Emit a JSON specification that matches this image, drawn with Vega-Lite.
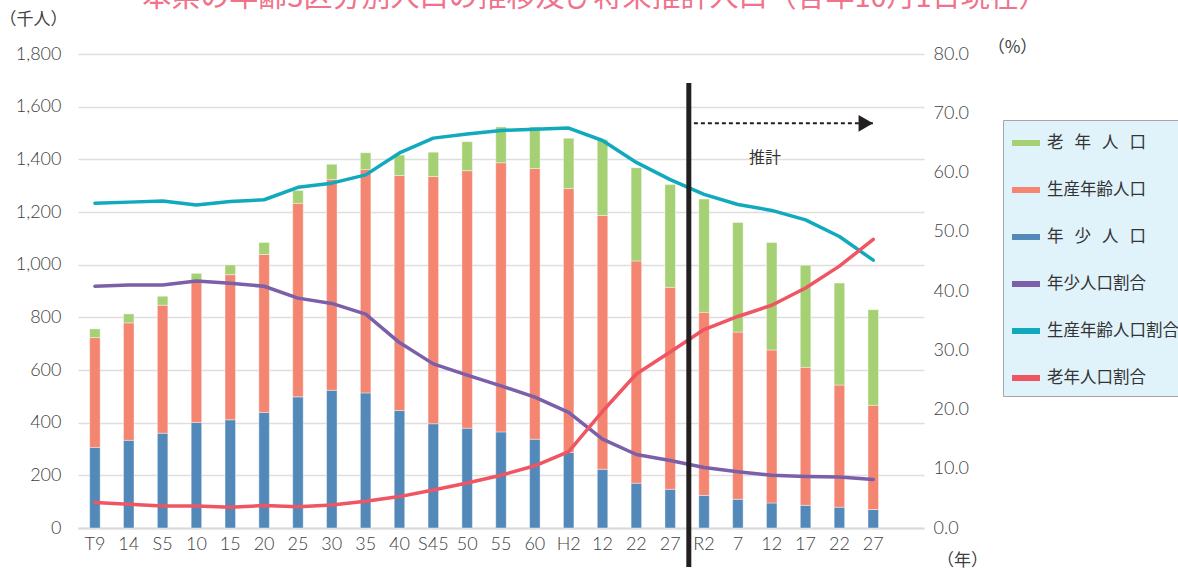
{
  "$schema": "https://vega.github.io/schema/vega-lite/v6.json",
  "width": 846,
  "height": 474,
  "autosize": "none",
  "padding": {"left": 78, "top": 54, "right": 254, "bottom": 43},
  "background": "white",
  "title": {
    "text": "本県の年齢3区分別人口の推移及び将来推計人口（各年10月1日現在）",
    "anchor": "middle",
    "frame": "group",
    "dx": 94,
    "dy": 26,
    "offset": 0,
    "baseline": "alphabetic",
    "font": "Noto Sans CJK JP",
    "fontSize": 29,
    "fontWeight": "normal",
    "color": "#f0738b"
  },
  "config": {
    "view": {"stroke": null},
    "font": "Noto Sans CJK JP"
  },
  "datasets": {
    "population": [
      {"年": "1920", "区分": "年少人口", "人口": 306}, {"年": "1920", "区分": "生産年齢人口", "人口": 417}, {"年": "1920", "区分": "老年人口", "人口": 33},
      {"年": "1925", "区分": "年少人口", "人口": 333}, {"年": "1925", "区分": "生産年齢人口", "人口": 446}, {"年": "1925", "区分": "老年人口", "人口": 34},
      {"年": "1930", "区分": "年少人口", "人口": 360}, {"年": "1930", "区分": "生産年齢人口", "人口": 486}, {"年": "1930", "区分": "老年人口", "人口": 34},
      {"年": "1935", "区分": "年少人口", "人口": 401}, {"年": "1935", "区分": "生産年齢人口", "人口": 538}, {"年": "1935", "区分": "老年人口", "人口": 28},
      {"年": "1940", "区分": "年少人口", "人口": 411}, {"年": "1940", "区分": "生産年齢人口", "人口": 551}, {"年": "1940", "区分": "老年人口", "人口": 37},
      {"年": "1945", "区分": "年少人口", "人口": 439}, {"年": "1945", "区分": "生産年齢人口", "人口": 600}, {"年": "1945", "区分": "老年人口", "人口": 45},
      {"年": "1950", "区分": "年少人口", "人口": 498}, {"年": "1950", "区分": "生産年齢人口", "人口": 735}, {"年": "1950", "区分": "老年人口", "人口": 49},
      {"年": "1955", "区分": "年少人口", "人口": 523}, {"年": "1955", "区分": "生産年齢人口", "人口": 801}, {"年": "1955", "区分": "老年人口", "人口": 57},
      {"年": "1960", "区分": "年少人口", "人口": 513}, {"年": "1960", "区分": "生産年齢人口", "人口": 848}, {"年": "1960", "区分": "老年人口", "人口": 64},
      {"年": "1965", "区分": "年少人口", "人口": 446}, {"年": "1965", "区分": "生産年齢人口", "人口": 893}, {"年": "1965", "区分": "老年人口", "人口": 77},
      {"年": "1970", "区分": "年少人口", "人口": 396}, {"年": "1970", "区分": "生産年齢人口", "人口": 939}, {"年": "1970", "区分": "老年人口", "人口": 92},
      {"年": "1975", "区分": "年少人口", "人口": 379}, {"年": "1975", "区分": "生産年齢人口", "人口": 978}, {"年": "1975", "区分": "老年人口", "人口": 110},
      {"年": "1980", "区分": "年少人口", "人口": 365}, {"年": "1980", "区分": "生産年齢人口", "人口": 1022}, {"年": "1980", "区分": "老年人口", "人口": 136},
      {"年": "1985", "区分": "年少人口", "人口": 337}, {"年": "1985", "区分": "生産年齢人口", "人口": 1028}, {"年": "1985", "区分": "老年人口", "人口": 158},
      {"年": "1990", "区分": "年少人口", "人口": 287}, {"年": "1990", "区分": "生産年齢人口", "人口": 1002}, {"年": "1990", "区分": "老年人口", "人口": 191},
      {"年": "2000", "区分": "年少人口", "人口": 223}, {"年": "2000", "区分": "生産年齢人口", "人口": 964}, {"年": "2000", "区分": "老年人口", "人口": 288},
      {"年": "2010", "区分": "年少人口", "人口": 170}, {"年": "2010", "区分": "生産年齢人口", "人口": 844}, {"年": "2010", "区分": "老年人口", "人口": 354},
      {"年": "2015", "区分": "年少人口", "人口": 147}, {"年": "2015", "区分": "生産年齢人口", "人口": 767}, {"年": "2015", "区分": "老年人口", "人口": 390},
      {"年": "2020", "区分": "年少人口", "人口": 124}, {"年": "2020", "区分": "生産年齢人口", "人口": 695}, {"年": "2020", "区分": "老年人口", "人口": 430},
      {"年": "2025", "区分": "年少人口", "人口": 109}, {"年": "2025", "区分": "生産年齢人口", "人口": 635}, {"年": "2025", "区分": "老年人口", "人口": 416},
      {"年": "2030", "区分": "年少人口", "人口": 95}, {"年": "2030", "区分": "生産年齢人口", "人口": 581}, {"年": "2030", "区分": "老年人口", "人口": 408},
      {"年": "2035", "区分": "年少人口", "人口": 86}, {"年": "2035", "区分": "生産年齢人口", "人口": 524}, {"年": "2035", "区分": "老年人口", "人口": 388},
      {"年": "2040", "区分": "年少人口", "人口": 79}, {"年": "2040", "区分": "生産年齢人口", "人口": 464}, {"年": "2040", "区分": "老年人口", "人口": 387},
      {"年": "2045", "区分": "年少人口", "人口": 70}, {"年": "2045", "区分": "生産年齢人口", "人口": 396}, {"年": "2045", "区分": "老年人口", "人口": 363}
    ],
    "ratio": [
      {"年": "1920", "区分": "年少人口割合", "割合": 40.8}, {"年": "1920", "区分": "生産年齢人口割合", "割合": 54.8}, {"年": "1920", "区分": "老年人口割合", "割合": 4.3},
      {"年": "1925", "区分": "年少人口割合", "割合": 41.0}, {"年": "1925", "区分": "生産年齢人口割合", "割合": 55.0}, {"年": "1925", "区分": "老年人口割合", "割合": 4.0},
      {"年": "1930", "区分": "年少人口割合", "割合": 41.0}, {"年": "1930", "区分": "生産年齢人口割合", "割合": 55.2}, {"年": "1930", "区分": "老年人口割合", "割合": 3.7},
      {"年": "1935", "区分": "年少人口割合", "割合": 41.7}, {"年": "1935", "区分": "生産年齢人口割合", "割合": 54.5}, {"年": "1935", "区分": "老年人口割合", "割合": 3.7},
      {"年": "1940", "区分": "年少人口割合", "割合": 41.3}, {"年": "1940", "区分": "生産年齢人口割合", "割合": 55.1}, {"年": "1940", "区分": "老年人口割合", "割合": 3.5},
      {"年": "1945", "区分": "年少人口割合", "割合": 40.8}, {"年": "1945", "区分": "生産年齢人口割合", "割合": 55.4}, {"年": "1945", "区分": "老年人口割合", "割合": 3.8},
      {"年": "1950", "区分": "年少人口割合", "割合": 38.8}, {"年": "1950", "区分": "生産年齢人口割合", "割合": 57.5}, {"年": "1950", "区分": "老年人口割合", "割合": 3.6},
      {"年": "1955", "区分": "年少人口割合", "割合": 37.9}, {"年": "1955", "区分": "生産年齢人口割合", "割合": 58.2}, {"年": "1955", "区分": "老年人口割合", "割合": 3.9},
      {"年": "1960", "区分": "年少人口割合", "割合": 36.1}, {"年": "1960", "区分": "生産年齢人口割合", "割合": 59.6}, {"年": "1960", "区分": "老年人口割合", "割合": 4.5},
      {"年": "1965", "区分": "年少人口割合", "割合": 31.3}, {"年": "1965", "区分": "生産年齢人口割合", "割合": 63.3}, {"年": "1965", "区分": "老年人口割合", "割合": 5.3},
      {"年": "1970", "区分": "年少人口割合", "割合": 27.7}, {"年": "1970", "区分": "生産年齢人口割合", "割合": 65.8}, {"年": "1970", "区分": "老年人口割合", "割合": 6.4},
      {"年": "1975", "区分": "年少人口割合", "割合": 25.8}, {"年": "1975", "区分": "生産年齢人口割合", "割合": 66.5}, {"年": "1975", "区分": "老年人口割合", "割合": 7.6},
      {"年": "1980", "区分": "年少人口割合", "割合": 24.0}, {"年": "1980", "区分": "生産年齢人口割合", "割合": 67.1}, {"年": "1980", "区分": "老年人口割合", "割合": 8.9},
      {"年": "1985", "区分": "年少人口割合", "割合": 22.1}, {"年": "1985", "区分": "生産年齢人口割合", "割合": 67.3}, {"年": "1985", "区分": "老年人口割合", "割合": 10.5},
      {"年": "1990", "区分": "年少人口割合", "割合": 19.5}, {"年": "1990", "区分": "生産年齢人口割合", "割合": 67.5}, {"年": "1990", "区分": "老年人口割合", "割合": 12.9},
      {"年": "2000", "区分": "年少人口割合", "割合": 15.0}, {"年": "2000", "区分": "生産年齢人口割合", "割合": 65.4}, {"年": "2000", "区分": "老年人口割合", "割合": 19.7},
      {"年": "2010", "区分": "年少人口割合", "割合": 12.4}, {"年": "2010", "区分": "生産年齢人口割合", "割合": 61.7}, {"年": "2010", "区分": "老年人口割合", "割合": 26.0},
      {"年": "2015", "区分": "年少人口割合", "割合": 11.4}, {"年": "2015", "区分": "生産年齢人口割合", "割合": 58.8}, {"年": "2015", "区分": "老年人口割合", "割合": 29.7},
      {"年": "2020", "区分": "年少人口割合", "割合": 10.2}, {"年": "2020", "区分": "生産年齢人口割合", "割合": 56.3}, {"年": "2020", "区分": "老年人口割合", "割合": 33.5},
      {"年": "2025", "区分": "年少人口割合", "割合": 9.5}, {"年": "2025", "区分": "生産年齢人口割合", "割合": 54.6}, {"年": "2025", "区分": "老年人口割合", "割合": 35.7},
      {"年": "2030", "区分": "年少人口割合", "割合": 8.9}, {"年": "2030", "区分": "生産年齢人口割合", "割合": 53.6}, {"年": "2030", "区分": "老年人口割合", "割合": 37.6},
      {"年": "2035", "区分": "年少人口割合", "割合": 8.7}, {"年": "2035", "区分": "生産年齢人口割合", "割合": 52.0}, {"年": "2035", "区分": "老年人口割合", "割合": 40.5},
      {"年": "2040", "区分": "年少人口割合", "割合": 8.6}, {"年": "2040", "区分": "生産年齢人口割合", "割合": 49.2}, {"年": "2040", "区分": "老年人口割合", "割合": 44.2},
      {"年": "2045", "区分": "年少人口割合", "割合": 8.2}, {"年": "2045", "区分": "生産年齢人口割合", "割合": 45.2}, {"年": "2045", "区分": "老年人口割合", "割合": 48.7}
    ]
  },
  "layer": [
    {
      "data": {"name": "population"},
      "mark": {"type": "bar", "width": 10.5, "stroke": "white", "strokeWidth": 0.8, "strokeOpacity": 0.5},
      "encoding": {
        "x": {
          "field": "年",
          "type": "nominal",
          "sort": null,
          "scale": {
            "domain": ["1920", "1925", "1930", "1935", "1940", "1945", "1950", "1955", "1960", "1965", "1970", "1975", "1980", "1985", "1990", "2000", "2010", "2015", "2020", "2025", "2030", "2035", "2040", "2045", "2050"],
            "paddingInner": 0,
            "paddingOuter": 0
          },
          "axis": {
            "title": "（年）",
            "titleAngle": 0,
            "titleX": 884,
            "titleY": 32,
            "titleAlign": "center",
            "titleBaseline": "middle",
            "titleFont": "Noto Sans CJK JP",
            "titleFontSize": 17,
            "titleFontWeight": "normal",
            "titleColor": "#404040",
            "labelAngle": 0,
            "labelFont": "Lato",
            "labelFontWeight": 300,
            "labelFontSize": 18,
            "labelColor": "#404040",
            "labelPadding": 7,
            "ticks": false,
            "grid": false,
            "domainColor": "#d9d9d9",
            "domainWidth": 2,
            "labelExpr": "['T9','14','S5','10','15','20','25','30','35','40','S45','50','55','60','H2','12','22','27','R2','7','12','17','22','27',''][indexof(['1920','1925','1930','1935','1940','1945','1950','1955','1960','1965','1970','1975','1980','1985','1990','2000','2010','2015','2020','2025','2030','2035','2040','2045','2050'], datum.value)]"
          }
        },
        "y": {
          "field": "人口",
          "type": "quantitative",
          "stack": "zero",
          "scale": {"domain": [0, 1800], "nice": false, "zero": true},
          "axis": {
            "title": "（千人）",
            "titleAngle": 0,
            "titleX": -45,
            "titleY": -35,
            "titleAlign": "center",
            "titleBaseline": "middle",
            "titleFont": "Noto Sans CJK JP",
            "titleFontSize": 17,
            "titleFontWeight": "normal",
            "titleColor": "#404040",
            "values": [0, 200, 400, 600, 800, 1000, 1200, 1400, 1600, 1800],
            "format": ",d",
            "labelFont": "Lato",
            "labelFontWeight": 300,
            "labelFontSize": 18,
            "labelColor": "#404040",
            "labelPadding": 17,
            "ticks": false,
            "domain": false,
            "grid": true,
            "gridColor": "#dedede",
            "gridWidth": 1.5
          }
        },
        "color": {
          "field": "区分",
          "type": "nominal",
          "scale": {
            "domain": ["老年人口", "生産年齢人口", "年少人口", "年少人口割合", "生産年齢人口割合", "老年人口割合"],
            "range": ["#a5d074", "#f38571", "#5289b9", "#7b5fa9", "#11a9bd", "#ef5562"]
          },
          "legend": {
            "orient": "none",
            "legendX": 925,
            "legendY": 66,
            "title": null,
            "symbolType": "stroke",
            "symbolSize": 784,
            "symbolStrokeWidth": 6,
            "labelFont": "Noto Sans CJK JP",
            "labelFontSize": 16.5,
            "labelColor": "#333333",
            "labelOffset": 4,
            "labelLimit": 300,
            "rowPadding": 18,
            "padding": 6,
            "fillColor": "#e0f2fa",
            "strokeColor": "#a6a6a6",
            "labelExpr": "datum.label === '老年人口' ? '老\u2002\u2006年\u2002\u2006人\u2002\u2006口' : datum.label === '年少人口' ? '年\u2002\u2006少\u2002\u2006人\u2002\u2006口' : datum.label"
          }
        },
        "order": {"field": "区分", "sort": "ascending"}
      }
    },
    {
      "layer": [
        {
          "data": {"name": "ratio"},
          "mark": {"type": "line", "strokeWidth": 3.5, "strokeCap": "round", "strokeJoin": "round"},
          "encoding": {
            "x": {"field": "年", "type": "nominal", "sort": null},
            "y": {
              "field": "割合",
              "type": "quantitative",
              "scale": {"domain": [0, 80], "nice": false},
              "axis": {
                "orient": "right",
                "title": "（%）",
                "titleAngle": 0,
                "titleX": 88,
                "titleY": -7,
                "titleAlign": "center",
                "titleBaseline": "middle",
                "titleFont": "Noto Sans CJK JP",
                "titleFontSize": 17,
                "titleFontWeight": "normal",
                "titleColor": "#404040",
                "values": [0, 10, 20, 30, 40, 50, 60, 70, 80],
                "format": ".1f",
                "labelFont": "Lato",
                "labelFontWeight": 300,
                "labelFontSize": 18,
                "labelColor": "#404040",
                "labelPadding": 9,
                "ticks": false,
                "domain": false,
                "grid": false
              }
            },
            "color": {"field": "区分", "type": "nominal", "legend": null}
          }
        },
        {
          "data": {"values": [{"年": "2020", "上端": 75.1, "下端": -6.6}]},
          "mark": {"type": "rule", "color": "#231f20", "strokeWidth": 5},
          "encoding": {
            "x": {"field": "年", "type": "nominal", "bandPosition": 0.05},
            "y": {"field": "上端", "type": "quantitative"},
            "y2": {"field": "下端"}
          }
        },
        {
          "data": {"values": [{"始": "2020", "終": "2045", "割合": 68.3}]},
          "mark": {"type": "rule", "color": "#231f20", "strokeWidth": 2, "strokeDash": [4, 3]},
          "encoding": {
            "x": {"field": "始", "type": "nominal", "bandPosition": 0.2},
            "x2": {"field": "終"},
            "y": {"field": "割合", "type": "quantitative"}
          }
        },
        {
          "data": {"values": [{"年": "2045", "割合": 68.3}]},
          "mark": {"type": "point", "shape": "triangle-right", "filled": true, "color": "#231f20", "opacity": 1, "size": 280},
          "encoding": {
            "x": {"field": "年", "type": "nominal", "bandPosition": 0.28},
            "y": {"field": "割合", "type": "quantitative"}
          }
        },
        {
          "data": {"values": [{"年": "2030", "割合": 62.4, "注記": "推計"}]},
          "mark": {"type": "text", "font": "Noto Sans CJK JP", "fontSize": 16, "color": "#333333"},
          "encoding": {
            "x": {"field": "年", "type": "nominal", "bandPosition": 0.3},
            "y": {"field": "割合", "type": "quantitative"},
            "text": {"field": "注記"}
          }
        }
      ]
    }
  ],
  "resolve": {"scale": {"y": "independent"}}
}
